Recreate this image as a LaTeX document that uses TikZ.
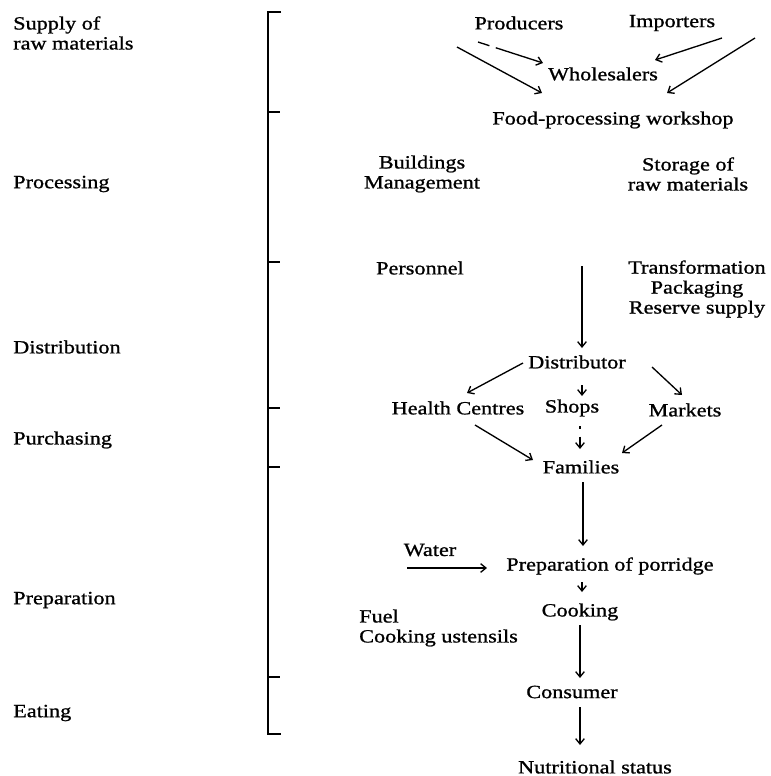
\documentclass[tikz,border=0pt]{standalone}
\usepackage{fontspec}
\setmainfont{Liberation Serif}[FakeStretch=1.19,FakeBold=1]
\usetikzlibrary{calc,arrows.meta}

\begin{document}
\begin{tikzpicture}[x=0.75pt,y=0.75pt,yscale=-1,xscale=1,
  every node/.style={inner sep=0.75pt,font=\fontsize{14}{15}\selectfont},
  stage/.style={anchor=west,align=left},
  flow/.style={-{Straight Barb[length=4pt,width=6.5pt]},line width=1pt}]
\useasboundingbox (0,0) rectangle (771,776);

%Stage bracket
\draw [line width=1.5pt] (281,12) -- (268,12) -- (268,734) -- (281,734) ;
\foreach \y in {112,262,408,467,677} {\draw [line width=1.3pt] (268,\y) -- (280,\y) ;}

% Stage names
\node [stage] (supply) at (12,33) {Supply of\\raw materials};
\node [stage] (processing) at (12,184) {Processing};
\node [stage] (distribution) at (12,347) {Distribution};
\node [stage] (purchasing) at (12,440) {Purchasing};
\node [stage] (preparation) at (12,600) {Preparation};
\node [stage] (eating) at (12,713) {Eating};

% Chain
\node (prod) at (519,23) {Producers};
\node (imp) at (672,23) {Importers};
\node (whole) at (603,74) {Wholesalers};
\node (fpw) at (613,120) {Food-processing workshop};
\node [align=center] (build) at (422,174) {Buildings\\Management};
\node [align=center] (store) at (688,174) {Storage of\\raw materials};
\node (pers) at (420,268) {Personnel};
\node [align=center] (trans) at (697,289) {Transformation\\Packaging\\Reserve supply};
\coordinate (proc) at (582,266);
\node (dist) at (577,362) {Distributor};
\node (hc) at (458,408) {Health Centres};
\node (shops) at (572,408) {Shops};
\node (mark) at (685,410) {Markets};
\node (fam) at (581,467) {Families};
\node (water) at (430,550) {Water};
\node (prep) at (610,566) {Preparation of porridge};
\node (cook) at (580,612) {Cooking};
\node [stage] (fuel) at (358,628) {Fuel\\Cooking ustensils};
\node (cons) at (572,692) {Consumer};
\node (nut) at (595,767) {Nutritional status};

% Supply arrows
\draw [flow,dash pattern=on 9pt off 5pt on 60pt] ($(prod)+(-41,19)$) -- ($(whole)+(-60,-11)$) ;
\draw [flow] ($(prod)+(-62,24)$) -- ($(fpw)+(-71,-27)$) ;
\draw [flow] ($(imp)+(50,15)$) -- ($(whole)+(52,-14)$) ;
\draw [flow] ($(imp)+(83,15)$) -- ($(fpw)+(54,-27)$) ;

% Distribution arrows
\draw [flow] (proc) -- ($(dist)+(5,-14)$) ;
\draw [flow] ($(dist)+(-54,1)$) -- ($(hc)+(9,-15)$) ;
\draw [flow] ($(dist)+(5,23)$) -- ($(shops)+(10,-12)$) ;
\draw [flow] ($(dist)+(75,5)$) -- ($(mark)+(-3,-15)$) ;
\draw [flow] ($(hc)+(17,17)$) -- ($(fam)+(-48,-7)$) ;
\draw [flow,dash pattern=on 2pt off 6pt on 20pt] ($(shops)+(8,18)$) -- ($(fam)+(-1,-18)$) ;
\draw [flow] ($(mark)+(-23,15)$) -- ($(fam)+(41,-14)$) ;

% Preparation arrows
\draw [flow] ($(fam)+(2,15)$) -- ($(prep)+(-27,-20)$) ;
\draw [flow] ($(water)+(-23,18)$) -- ($(prep)+(-123,2)$) ;
\draw [flow] ($(prep)+(-28,16)$) -- ($(cook)+(2,-20)$) ;
\draw [flow] ($(cook)+(0,13)$) -- ($(cons)+(8,-14)$) ;
\draw [flow] ($(cons)+(8,15)$) -- ($(nut)+(-15,-22)$) ;

\end{tikzpicture}
\end{document}
